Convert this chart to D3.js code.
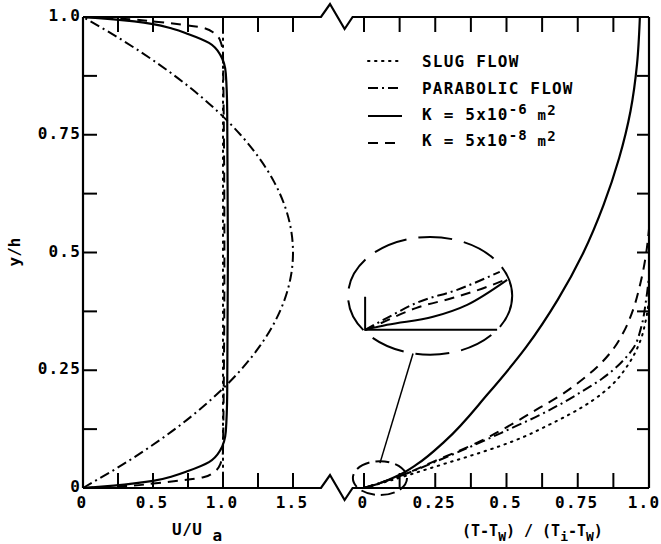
<!DOCTYPE html>
<html>
<head>
<meta charset="utf-8">
<script src="https://cdn.jsdelivr.net/npm/d3@7"></script>
<style>
body { margin: 0; background: #fff; }
text { font-family: "DejaVu Sans Mono", monospace; font-weight: bold; fill: #000; }
</style>
</head>
<body>
<script>
// ---- data ----
// left panel: velocity profiles, y/h vs U/Ua
var etaSolidL = [0, 0.005, 0.015, 0.025, 0.036, 0.055, 0.08, 0.12, 0.2, 0.5, 0.8, 0.88, 0.92, 0.945, 0.964, 0.975, 0.985, 0.995, 1];
var uSolidL   = [0, 0.22, 0.5, 0.64, 0.75, 0.9, 0.98, 1.02, 1.03, 1.035, 1.03, 1.02, 0.98, 0.9, 0.75, 0.64, 0.5, 0.22, 0];
var etaDashL  = [0, 0.004, 0.01, 0.016, 0.023, 0.035, 0.05, 0.08, 0.5, 0.92, 0.95, 0.965, 0.977, 0.984, 0.99, 0.996, 1];
var uDashL    = [0, 0.3, 0.52, 0.7, 0.86, 0.94, 0.98, 1.0, 1.01, 1.0, 0.98, 0.94, 0.86, 0.7, 0.52, 0.3, 0];
var etaParab  = [0, 0.05, 0.1, 0.15, 0.2, 0.25, 0.3, 0.35, 0.4, 0.45, 0.5, 0.55, 0.6, 0.65, 0.7, 0.75, 0.8, 0.85, 0.9, 0.95, 1];
var uParab    = [0, 0.285, 0.54, 0.765, 0.96, 1.125, 1.26, 1.365, 1.44, 1.485, 1.5, 1.485, 1.44, 1.365, 1.26, 1.125, 0.96, 0.765, 0.54, 0.285, 0];
var etaSlug   = [0, 1];
var uSlug     = [1, 1];

// right panel: temperature profiles, y/h vs (T-Tw)/(Ti-Tw)
var etaSolidR = [0, 0.01, 0.028, 0.05, 0.1, 0.2, 0.3, 0.4, 0.5, 0.6, 0.7, 0.8, 0.9, 1.0];
var tSolidR   = [0, 0.055, 0.125, 0.185, 0.285, 0.435, 0.57, 0.68, 0.77, 0.84, 0.895, 0.935, 0.958, 0.968];
var etaParabR = [0, 0.023, 0.06, 0.10, 0.125, 0.15, 0.175, 0.205, 0.232, 0.265, 0.30, 0.34, 0.40, 0.45];
var tParabR   = [0, 0.116, 0.267, 0.42, 0.51, 0.6, 0.68, 0.765, 0.835, 0.9, 0.948, 0.972, 0.99, 1.0];
var etaDashR  = [0, 0.023, 0.055, 0.10, 0.14, 0.17, 0.195, 0.225, 0.257, 0.293, 0.33, 0.38, 0.43, 0.49, 0.55];
var tDashR    = [0, 0.116, 0.24, 0.41, 0.532, 0.615, 0.685, 0.755, 0.818, 0.872, 0.91, 0.945, 0.968, 0.988, 1.0];
var etaSlugR  = [0, 0.02, 0.042, 0.055, 0.07, 0.089, 0.108, 0.132, 0.157, 0.185, 0.219, 0.261, 0.31, 0.36, 0.40];
var tSlugR    = [0, 0.116, 0.232, 0.302, 0.382, 0.477, 0.558, 0.642, 0.723, 0.8, 0.87, 0.926, 0.968, 0.99, 1.0];

// magnified inset near the origin (inset units)
var insSolidX = [0, 0.0167, 0.0515, 0.0773, 0.1076];
var insSolidY = [0, 0.002, 0.0052, 0.010, 0.020];
var insDashX  = [0, 0.009, 0.039, 0.0667, 0.0924, 0.106];
var insDashY  = [0, 0.002, 0.0088, 0.0128, 0.0172, 0.020];
var insParabX = [0, 0.0167, 0.039, 0.0697, 0.102];
var insParabY = [0, 0.0048, 0.0108, 0.016, 0.0232];

// ticks and labels
var yTicks = [0.125, 0.25, 0.375, 0.5, 0.625, 0.75, 0.875];
var yLabels = [0, 0.25, 0.5, 0.75, 1.0];
var yLabelText = ["0", "0.25", "0.5", "0.75", "1.0"];
var xTicksL = [0.25, 0.5, 0.75, 1.0, 1.25, 1.5];
var xLabelsL = [0, 0.5, 1.0, 1.5];
var xLabelTextL = ["0", "0.5", "1.0", "1.5"];
var xTicksR = [0, 0.125, 0.25, 0.375, 0.5, 0.625, 0.75, 0.875];
var xLabelsR = [0, 0.25, 0.5, 0.75, 1.0];
var xLabelTextR = ["0", "0.25", "0.5", "0.75", "1.0"];

var legendNames = ["SLUG FLOW", "PARABOLIC FLOW", "K = 5x10|-6| m|2", "K = 5x10|-8| m|2"];
var legendDash = ["1.5,5.5", "10,4,2,4", null, "10,7"];

// ---- drawing ----
var width = 661, height = 544;
var svg = d3.select("body").append("svg")
    .attr("width", width).attr("height", height);

var y = d3.scaleLinear().domain([0, 1]).range([488, 17]);
var xL = d3.scaleLinear().domain([0, 1.5]).range([83, 293]);
var xR = d3.scaleLinear().domain([0, 1]).range([364, 649]);

// frame with axis break
var breakA = xL(1.7), breakB = xR(-0.04);
function frameSide(yy) {
  return [[xL(0), yy], [breakA, yy], [breakA + 9, yy - 13], [breakB - 8, yy + 12], [breakB, yy], [xR(1), yy]];
}
var line0 = d3.line();
svg.append("path").attr("d", line0(frameSide(y(1))))
  .attr("fill", "none").attr("stroke", "#000").attr("stroke-width", 2.2);
svg.append("path").attr("d", line0(frameSide(y(0))))
  .attr("fill", "none").attr("stroke", "#000").attr("stroke-width", 2.2);
svg.append("line").attr("x1", xL(0)).attr("x2", xL(0)).attr("y1", y(0)).attr("y2", y(1))
  .attr("stroke", "#000").attr("stroke-width", 2.2);
svg.append("line").attr("x1", xR(1)).attr("x2", xR(1)).attr("y1", y(0)).attr("y2", y(1))
  .attr("stroke", "#000").attr("stroke-width", 2.2);

var tk = svg.append("g").attr("stroke", "#000").attr("stroke-width", 2);
// y ticks, left and right
tk.selectAll("yl").data(yTicks).enter().append("line")
  .attr("x1", xL(0)).attr("x2", xL(0) + 14).attr("y1", d => y(d)).attr("y2", d => y(d));
tk.selectAll("yr").data(yTicks).enter().append("line")
  .attr("x1", xR(1)).attr("x2", xR(1) - 12).attr("y1", d => y(d)).attr("y2", d => y(d));
// x ticks top & bottom
[[xTicksL, xL], [xTicksR, xR]].forEach(function (p) {
  tk.selectAll(null).data(p[0]).enter().append("line")
    .attr("x1", d => p[1](d)).attr("x2", d => p[1](d)).attr("y1", y(0)).attr("y2", y(0) - 15);
  tk.selectAll(null).data(p[0]).enter().append("line")
    .attr("x1", d => p[1](d)).attr("x2", d => p[1](d)).attr("y1", y(1)).attr("y2", y(1) + 15);
});

// tick labels
svg.selectAll("ylab").data(yLabels).enter().append("text")
  .attr("x", 81).attr("y", d => y(d)).attr("dy", "0.25em")
  .attr("text-anchor", "end").attr("font-size", 16).attr("letter-spacing", 1.2)
  .text((d, i) => yLabelText[i]);
svg.selectAll("xlabL").data(xLabelsL).enter().append("text")
  .attr("x", d => xL(d) - 1).attr("y", 508)
  .attr("text-anchor", "middle").attr("font-size", 16).attr("letter-spacing", 1.2)
  .text((d, i) => xLabelTextL[i]);
svg.selectAll("xlabR").data(xLabelsR).enter().append("text")
  .attr("x", d => Math.min(xR(d) - 1, 644)).attr("y", 508)
  .attr("text-anchor", "middle").attr("font-size", 16).attr("letter-spacing", 1.2)
  .text((d, i) => xLabelTextR[i]);

// axis titles
svg.append("text").attr("transform", "translate(20,252) rotate(-90)")
  .attr("text-anchor", "middle").attr("font-size", 16).text("y/h");
var tu = svg.append("text").attr("x", 172).attr("y", 535).attr("font-size", 16).attr("letter-spacing", 0.5);
tu.append("tspan").text("U/U ");
tu.append("tspan").attr("dy", 6).text("a");
var tt = svg.append("text").attr("x", 462).attr("y", 536).attr("font-size", 15);
tt.append("tspan").text("(T-T");
tt.append("tspan").attr("dy", 5).attr("font-size", 13).text("W");
tt.append("tspan").attr("dy", -5).text(") / (T");
tt.append("tspan").attr("dy", 5).attr("font-size", 13).text("i");
tt.append("tspan").attr("dy", -5).text("-T");
tt.append("tspan").attr("dy", 5).attr("font-size", 13).text("W");
tt.append("tspan").attr("dy", -5).text(")");

// curves
function pts(xs, ys) { return xs.map((v, i) => [v, ys[i]]); }
function draw(xs, ys, xs_, dash, w) {
  var ln = d3.line().x(d => xs_(d[0])).y(d => y(d[1])).curve(d3.curveMonotoneY);
  svg.append("path").attr("d", ln(pts(xs, ys)))
    .attr("fill", "none").attr("stroke", "#000").attr("stroke-width", w || 2)
    .attr("stroke-dasharray", dash).attr("stroke-linecap", dash === "1.5,5.5" ? "round" : "butt");
}
draw(uSlug, etaSlug, xL, "1.5,5.5", 2);
draw(uParab, etaParab, xL, "10,4,2,4", 2);
draw(uDashL, etaDashL, xL, "10,7", 2);
draw(uSolidL, etaSolidL, xL, null, 2.2);

draw(tSlugR, etaSlugR, xR, "1.5,5.5", 2);
draw(tParabR, etaParabR, xR, "10,4,2,4", 2);
draw(tDashR, etaDashR, xR, "10,7", 2);
draw(tSolidR, etaSolidR, xR, null, 2.2);

// magnifier: small ellipse at origin, big ellipse with inset
var sm = { cx: 0.056, cy: 0.021, rx: 0.095, ry: 0.036 };
var bg = { cx: 0.232, cy: 0.408, rx: 0.288, ry: 0.125 };
svg.append("ellipse").attr("cx", xR(sm.cx)).attr("cy", y(sm.cy))
  .attr("rx", xR(sm.rx) - xR(0)).attr("ry", y(0) - y(sm.ry))
  .attr("fill", "none").attr("stroke", "#000").attr("stroke-width", 2).attr("stroke-dasharray", "14,6");
var bcx = xR(bg.cx), bcy = y(bg.cy), brx = xR(bg.rx) - xR(0), bry = y(0) - y(bg.ry);
svg.append("ellipse").attr("cx", bcx).attr("cy", bcy).attr("rx", brx).attr("ry", bry)
  .attr("fill", "none").attr("stroke", "#000").attr("stroke-width", 2).attr("stroke-dasharray", "34,12");
// leader line
var lx = xR(0.172);
var ly = bcy + bry * Math.sqrt(1 - Math.pow((lx - bcx) / brx, 2));
svg.append("line").attr("x1", xR(sm.cx)).attr("y1", y(sm.cy + sm.ry) + 2).attr("x2", lx).attr("y2", ly)
  .attr("stroke", "#000").attr("stroke-width", 1.5);

var ix = d3.scaleLinear().domain([0, 0.1]).range([bcx - 65, bcx + 67]);
var iy = d3.scaleLinear().domain([0, 0.02]).range([bcy + 34, bcy - 16]);
svg.append("path").attr("d", line0([[ix(0), iy(0.0132)], [ix(0), iy(0)], [ix(0.1), iy(0)]]))
  .attr("fill", "none").attr("stroke", "#000").attr("stroke-width", 2);
function drawIn(xs, ys, dash) {
  var ln = d3.line().x(d => ix(d[0])).y(d => iy(d[1])).curve(d3.curveMonotoneX);
  svg.append("path").attr("d", ln(pts(xs, ys)))
    .attr("fill", "none").attr("stroke", "#000").attr("stroke-width", 2).attr("stroke-dasharray", dash);
}
drawIn(insParabX, insParabY, "10,4,2,4");
drawIn(insDashX, insDashY, "10,7");
drawIn(insSolidX, insSolidY, null);

// legend
var leg = svg.append("g");
var legY = [61, 88, 116, 143];
var legT = [67, 94, 120, 146];
legendNames.forEach(function (name, i) {
  leg.append("line").attr("x1", 368).attr("x2", 402).attr("y1", legY[i]).attr("y2", legY[i])
    .attr("stroke", "#000").attr("stroke-width", 2)
    .attr("stroke-dasharray", legendDash[i]).attr("stroke-linecap", i === 0 ? "round" : "butt");
  var t = leg.append("text").attr("x", 422).attr("y", legT[i]).attr("font-size", 16).attr("letter-spacing", 1.2);
  var parts = name.split("|");
  if (parts.length === 1) { t.text(name); return; }
  t.append("tspan").text(parts[0]);
  t.append("tspan").attr("dy", -6).attr("font-size", 14).text(parts[1]);
  t.append("tspan").attr("dy", 6).attr("font-size", 14).text(parts[2]);
  t.append("tspan").attr("dy", -5).attr("font-size", 14).text(parts[3]);
});
</script>
</body>
</html>
